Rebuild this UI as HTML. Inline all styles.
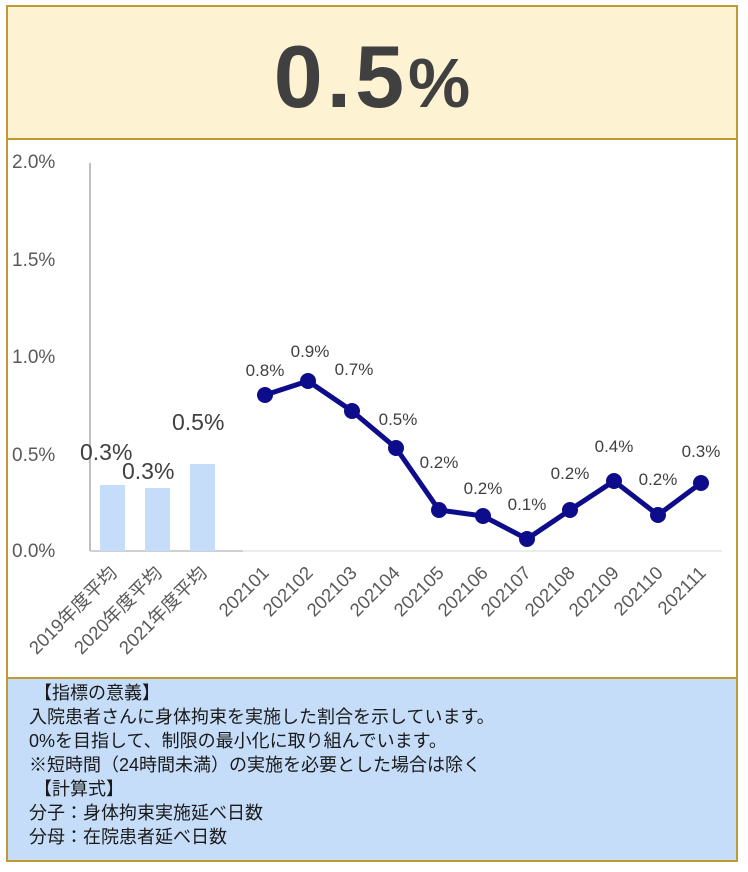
<!DOCTYPE html>
<html><head><meta charset="utf-8"><style>
body{margin:0;width:748px;height:872px;background:#fff;font-family:"Liberation Sans","Noto Sans CJK JP",sans-serif;}
#box{position:absolute;left:6px;top:5px;width:728px;height:853px;border:2px solid #c09a30;}
#hdr{position:absolute;left:0;top:0;width:728px;height:131px;background:#fdf3d3;border-bottom:2px solid #c09a30;}
#big{position:absolute;left:0;top:20px;width:728px;text-align:center;font-weight:bold;color:#404040;font-size:88px;line-height:100px;letter-spacing:4px;}
#big span{font-size:70px;letter-spacing:0;}
#txt{position:absolute;left:0;top:670px;width:728px;height:181px;background:#c5ddf8;border-top:2px solid #c09a30;color:#1a1a1a;font-size:18px;line-height:24px;}
svg{position:absolute;left:0;top:0}
</style></head><body>
<div id="box">
<div id="hdr"><div id="big">0.5<span>%</span></div></div>
<div id="txt"><div style="position:absolute;left:21px;top:2px;white-space:pre"> 【指標の意義】
入院患者さんに身体拘束を実施した割合を示しています。
0%を目指して、制限の最小化に取り組んでいます。
※短時間（24時間未満）の実施を必要とした場合は除く
 【計算式】
分子：身体拘束実施延べ日数
分母：在院患者延べ日数</div></div>
</div>
<svg width="748" height="872" style="position:absolute;left:0;top:0" font-family="Liberation Sans, DejaVu Sans, Noto Sans CJK JP, sans-serif">
<g fill="#595959" font-size="19">
<text x="12" y="168">2.0%</text><text x="12" y="266">1.5%</text><text x="12" y="363">1.0%</text><text x="12" y="461">0.5%</text><text x="12" y="557">0.0%</text>
</g>
<line x1="90" y1="163" x2="90" y2="551" stroke="#bfbfbf" stroke-width="2"/>
<line x1="90" y1="551" x2="243" y2="551" stroke="#d0d0d0" stroke-width="2"/>
<line x1="243" y1="551" x2="722" y2="551" stroke="#e6e6e6" stroke-width="1.5"/>
<g fill="#c5ddf8"><rect x="100" y="485" width="25" height="66"/><rect x="145" y="488" width="25" height="63"/><rect x="190" y="464" width="25" height="87"/></g>
<g fill="#404040" font-size="23"><text x="80" y="460">0.3%</text><text x="122" y="479">0.3%</text><text x="172" y="430">0.5%</text></g>
<polyline fill="none" stroke="#0d0d8c" stroke-width="5" stroke-linejoin="round" points="265,395 308,381 352,411 396,448 439,510 483,516 527,539 570,510 614,481 658,515 701,483"/>
<g fill="#0d0d8c"><circle cx="265" cy="395" r="8"/><circle cx="308" cy="381" r="8"/><circle cx="352" cy="411" r="8"/><circle cx="396" cy="448" r="8"/><circle cx="439" cy="510" r="8"/><circle cx="483" cy="516" r="8"/><circle cx="527" cy="539" r="8"/><circle cx="570" cy="510" r="8"/><circle cx="614" cy="481" r="8"/><circle cx="658" cy="515" r="8"/><circle cx="701" cy="483" r="8"/></g>
<g fill="#404040" font-size="17" text-anchor="middle">
<text x="265" y="376">0.8%</text><text x="310" y="357">0.9%</text><text x="354" y="375">0.7%</text><text x="398" y="425">0.5%</text><text x="439" y="468">0.2%</text><text x="483" y="494">0.2%</text><text x="527" y="510">0.1%</text><text x="570" y="479">0.2%</text><text x="614" y="452">0.4%</text><text x="658" y="485">0.2%</text><text x="701" y="457">0.3%</text>
</g>
<g fill="#595959" font-size="18.5" text-anchor="end">
<text transform="translate(118,574) rotate(-45)">2019年度平均</text>
<text transform="translate(163,574) rotate(-45)">2020年度平均</text>
<text transform="translate(208,574) rotate(-45)">2021年度平均</text>
<text transform="translate(270,574) rotate(-45)">202101</text>
<text transform="translate(314,574) rotate(-45)">202102</text>
<text transform="translate(358,574) rotate(-45)">202103</text>
<text transform="translate(401,574) rotate(-45)">202104</text>
<text transform="translate(445,574) rotate(-45)">202105</text>
<text transform="translate(489,574) rotate(-45)">202106</text>
<text transform="translate(532,574) rotate(-45)">202107</text>
<text transform="translate(576,574) rotate(-45)">202108</text>
<text transform="translate(620,574) rotate(-45)">202109</text>
<text transform="translate(664,574) rotate(-45)">202110</text>
<text transform="translate(707,574) rotate(-45)">202111</text>
</g>
</svg>
</body></html>
